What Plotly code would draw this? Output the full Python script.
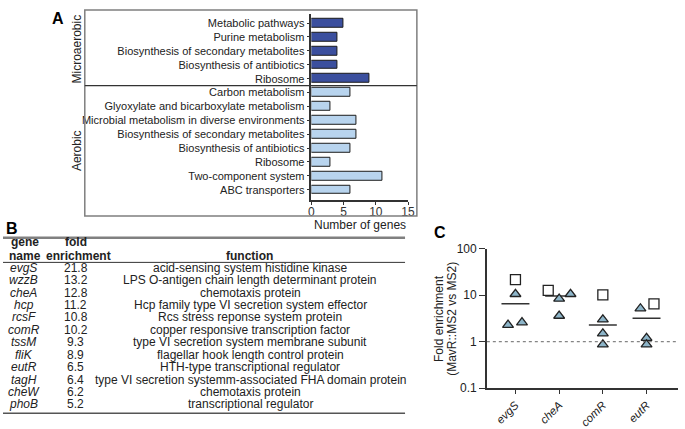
import plotly.graph_objects as go

# ---------------- data ----------------
# Panel A: KEGG pathway enrichment (number of genes)
micro_terms = ["Metabolic pathways", "Purine metabolism",
               "Biosynthesis of secondary metabolites",
               "Biosynthesis of antibiotics", "Ribosome"]
micro_counts = [5, 4, 4, 4, 9]
aero_terms = ["Carbon metabolism", "Glyoxylate and bicarboxylate metabolism",
              "Microbial metabolism in diverse environments",
              "Biosynthesis of secondary metabolites",
              "Biosynthesis of antibiotics", "Ribosome",
              "Two-component system", "ABC transporters"]
aero_counts = [6, 3, 7, 7, 6, 3, 11, 6]
count_ticks = [0, 5, 10, 15]

# Panel B: table
genes = ["evgS", "wzzB", "cheA", "hcp", "rcsF", "comR", "tssM", "fliK",
         "eutR", "tagH", "cheW", "phoB"]
fold = [21.8, 13.2, 12.8, 11.2, 10.8, 10.2, 9.3, 8.9, 6.5, 6.4, 6.2, 5.2]
functions = ["acid-sensing system histidine kinase",
             "LPS O-antigen chain length determinant protein",
             "chemotaxis protein",
             "Hcp family type VI secretion system effector",
             "Rcs stress reponse system protein",
             "copper responsive transcription factor",
             "type VI secretion system membrane subunit",
             "flagellar hook length control protein",
             "HTH-type transcriptional regulator",
             "type VI secretion systemm-associated FHA domain protein",
             "chemotaxis protein",
             "transcriptional regulator"]

# Panel C: validation
c_genes = ["evgS", "cheA", "comR", "eutR"]
c_seq = [21.8, 12.8, 10.2, 6.5]            # open squares (RNA-seq)
c_reps = [[10.6, 2.3, 2.6],                # triangles (replicates)
          [8.4, 3.6, 10.6],
          [3.0, 1.5, 0.87],
          [5.2, 1.2, 0.87]]
c_mean = [6.6, 9.7, 2.3, 3.2]
c_yticks = [0.1, 1, 10, 100]
c_yticklabels = ["0.1", "1", "10", "100"]

# layout-only constants (point scatter offsets, not data)
sq_jit = [0, -0.25, 0, 0.17]
tri_jit = [[0, -0.17, 0.15], [0, 0, 0.26], [0, 0, 0], [-0.14, 0, 0]]

# ---------------- helpers ----------------
W, H = 685, 429
FONT = "Liberation Sans, Arial, sans-serif"
def px(x):
    return x / W
def py(y):
    return 1 - y / H

fig = go.Figure()

# ---------------- Panel A ----------------
terms = micro_terms + aero_terms
n_micro = len(micro_terms)
fig.add_trace(go.Bar(
    x=micro_counts, y=list(range(n_micro)), orientation="h",
    marker=dict(color="#3b4f9e", line=dict(color="#1a1a1a", width=1)),
    width=0.64, xaxis="x", yaxis="y", showlegend=False, hoverinfo="x"))
fig.add_trace(go.Bar(
    x=aero_counts, y=list(range(n_micro, len(terms))), orientation="h",
    marker=dict(color="#b8d4ee", line=dict(color="#1a1a1a", width=1)),
    width=0.64, xaxis="x", yaxis="y", showlegend=False, hoverinfo="x"))

# ---------------- Panel C ----------------
for i, g in enumerate(c_genes):
    fig.add_trace(go.Scatter(
        x=[i - 0.32, i + 0.32], y=[c_mean[i], c_mean[i]], mode="lines",
        line=dict(color="#333333", width=1.5), xaxis="x2", yaxis="y2",
        showlegend=False, hoverinfo="skip"))
fig.add_trace(go.Scatter(
    x=[i + sq_jit[i] for i in range(len(c_genes))], y=c_seq, mode="markers",
    marker=dict(symbol="square", size=10, color="white",
                line=dict(color="#222222", width=1.3)),
    xaxis="x2", yaxis="y2", showlegend=False))
tx, ty = [], []
for i, reps in enumerate(c_reps):
    for j, v in enumerate(reps):
        tx.append(i + tri_jit[i][j])
        ty.append(v)
fig.add_trace(go.Scatter(
    x=tx, y=ty, mode="markers",
    marker=dict(symbol="triangle-up", size=9.5, color="#8db5c9",
                line=dict(color="#222222", width=1.3)),
    xaxis="x2", yaxis="y2", showlegend=False))
c_xrange = [-0.655, 3.72]
fig.add_trace(go.Scatter(
    x=c_xrange, y=[1, 1], mode="lines",
    line=dict(color="#666666", width=1, dash="dot"),
    xaxis="x2", yaxis="y2", showlegend=False, hoverinfo="skip"))

axis_line = dict(showline=True, linecolor="#333333", linewidth=1.5,
                 ticks="outside", tickcolor="#333333", tickwidth=1.2,
                 showgrid=False, zeroline=False)

fig.update_layout(
    width=W, height=H, margin=dict(l=0, r=0, t=0, b=0),
    paper_bgcolor="white", plot_bgcolor="white",
    font=dict(family=FONT, size=11, color="#222222"),
    bargap=0,
    xaxis=dict(domain=[px(313), px(411)], range=[0, 15], anchor="y",
               tickvals=count_ticks, ticklen=3, ticklabelstandoff=-4,
               tickfont=dict(size=12, color="#333333"), **axis_line),
    yaxis=dict(domain=[py(200), py(7)], range=[12.77, -0.67], anchor="x",
               tickvals=list(range(len(terms))), ticktext=terms, ticklen=3,
               tickfont=dict(size=11, color="#222222"), **axis_line),
    xaxis2=dict(domain=[px(491), 1.0], range=c_xrange, anchor="y2",
                tickvals=list(range(len(c_genes))),
                ticktext=["<i>%s</i>" % g for g in c_genes],
                tickangle=-45, ticklen=4,
                tickfont=dict(size=11.5, color="#222222"), **axis_line),
    yaxis2=dict(domain=[py(394), py(250)], type="log", range=[-1, 2],
                anchor="x2", tickvals=c_yticks, ticktext=c_yticklabels,
                ticklen=6, tickfont=dict(size=12, color="#222222"),
                **axis_line),
)

shapes = []
# panel A frame and separator
shapes.append(dict(type="rect", xref="paper", yref="paper",
                   x0=px(83), x1=px(420), y0=py(216), y1=py(3),
                   line=dict(color="#7f7f7f", width=1.5)))
shapes.append(dict(type="line", xref="paper", yref="y",
                   x0=px(83), x1=px(420), y0=n_micro - 0.5, y1=n_micro - 0.5,
                   line=dict(color="#333333", width=1.2)))
# table rules
shapes.append(dict(type="line", xref="paper", yref="paper",
                   x0=0, x1=px(408), y0=py(238.5), y1=py(238.5),
                   line=dict(color="#808080", width=2.5)))
shapes.append(dict(type="line", xref="paper", yref="paper",
                   x0=0, x1=px(408), y0=py(264), y1=py(264),
                   line=dict(color="#333333", width=1)))
shapes.append(dict(type="line", xref="paper", yref="paper",
                   x0=0, x1=px(408), y0=py(420), y1=py(420),
                   line=dict(color="#555555", width=1.5)))
fig.update_layout(shapes=shapes)

ann = []
def text(x, y, s, size=11, bold=False, italic=False, angle=0, xanchor="center",
         color="#222222"):
    if bold:
        s = "<b>%s</b>" % s
    if italic:
        s = "<i>%s</i>" % s
    ann.append(dict(x=px(x), y=py(y), xref="paper", yref="paper", text=s,
                    showarrow=False, xanchor=xanchor, yanchor="middle",
                    textangle=angle, font=dict(size=size, color=color)))

# panel letters
text(56, 12, "A", size=16, bold=True, color="#000000")
text(9, 229, "B", size=16, bold=True, color="#000000")
text(443, 233, "C", size=16, bold=True, color="#000000")

# panel A labels
text(75, 43, "Microaerobic", size=12, angle=-90)
text(75, 148, "Aerobic", size=12, angle=-90)
text(362, 225, "Number of genes", size=12)

# panel B table
text(22, 243, "gene", size=12, bold=True)
text(22, 257.5, "name", size=12, bold=True)
text(74, 243, "fold", size=12, bold=True)
text(77, 257.5, "enrichment", size=12, bold=True)
text(250, 257.5, "function", size=12, bold=True)
for i in range(len(genes)):
    yy = 269.5 + i * 12.85
    text(21, yy, genes[i], size=12, italic=True)
    text(74, yy, "%.1f" % fold[i], size=12)
    text(251, yy, functions[i], size=12)

# panel C y title
text(443, 322, "Fold enrichment", size=12, angle=-90)
text(456, 322, "(MavR::MS2 vs MS2)", size=12, angle=-90)

fig.update_layout(annotations=ann)
fig.write_html("out.html", config={"displayModeBar": False},
               post_script="document.body.style.margin='0px';")
